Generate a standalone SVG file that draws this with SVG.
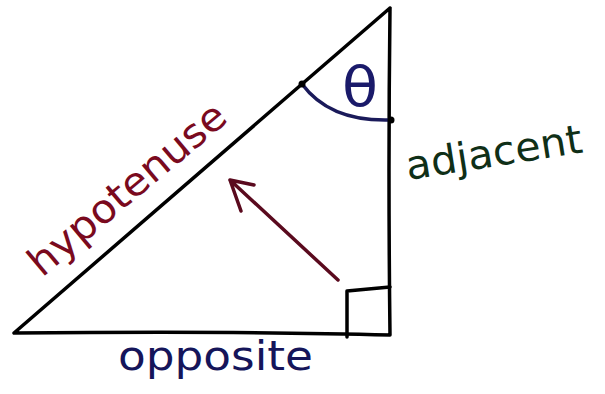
<svg xmlns="http://www.w3.org/2000/svg" width="605" height="394" viewBox="0 0 605 394">
<style>
.ln{fill:none;stroke:#000;stroke-width:3.5;stroke-linecap:round;stroke-linejoin:round}
.lbl{font-family:"DejaVu Sans","Liberation Sans",sans-serif}
</style>
<rect width="605" height="394" fill="#fff"/>
<g id="triangle">
<path class="ln" d="M14,333 L390,8 M390,8 Q388,170 390,335 M390,335 Q250,331 14,333"/>
<path class="ln" d="M347,291 L347,337 M347,291 L390,287"/>
<path d="M302,84 Q330,122 391,120" fill="none" stroke="#1a1a5a" stroke-width="3.5" stroke-linecap="round"/>
<circle cx="302" cy="84" r="3.5" fill="#000"/>
<circle cx="391" cy="120" r="3.5" fill="#000"/>
</g>
<g id="theta">
<text class="lbl" x="360" y="106" font-size="56" text-anchor="middle" fill="#1a1a6a" textLength="36" lengthAdjust="spacingAndGlyphs">θ</text>
</g>
<g id="hypotenuse">
<text class="lbl" transform="translate(42,278) rotate(-40)" font-size="40" fill="#7a0a1e" textLength="245" lengthAdjust="spacingAndGlyphs">hypotenuse</text>
</g>
<g id="adjacent">
<text class="lbl" transform="translate(408,180) rotate(-9)" font-size="40" fill="#0f2f17" textLength="178" lengthAdjust="spacingAndGlyphs">adjacent</text>
</g>
<g id="opposite">
<text class="lbl" x="118" y="370" font-size="40" fill="#15155a" textLength="195" lengthAdjust="spacingAndGlyphs">opposite</text>
</g>
<g id="connectors">
<path d="M338,280 L230,180 M254,185 L230,180 L241,211" fill="none" stroke="#5a0a1e" stroke-width="3.5" stroke-linecap="round" stroke-linejoin="round"/>
</g>
</svg>
